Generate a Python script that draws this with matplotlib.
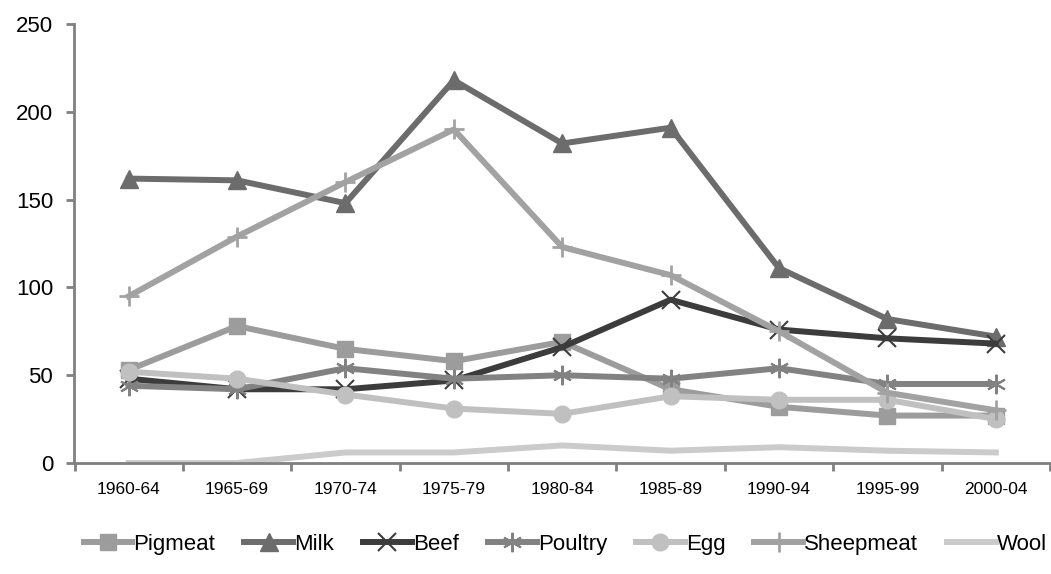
import matplotlib.pyplot as plt

plt.rcParams['font.family'] = ['Liberation Sans', 'DejaVu Sans']

# Periods on the category axis
periods = ["1960-64", "1965-69", "1970-74", "1975-79", "1980-84",
           "1985-89", "1990-94", "1995-99", "2000-04"]

# Series values
pigmeat = [53, 78, 65, 58, 69, 42, 32, 27, 27]
milk = [162, 161, 148, 218, 182, 191, 111, 82, 72]
beef = [48, 42, 42, 47, 66, 93, 76, 71, 68]
poultry = [44, 42, 54, 48, 50, 48, 54, 45, 45]
egg = [52, 48, 39, 31, 28, 38, 36, 36, 25]
sheepmeat = [95, 129, 160, 190, 123, 107, 75, 40, 30]
wool = [0, 0, 6, 6, 10, 7, 9, 7, 6]

fig = plt.figure(figsize=(10.51, 5.74), dpi=100)
ax = fig.add_axes([0.0704, 0.1934, 0.9286, 0.7646])

x = list(range(len(periods)))
lw = 4.3

ax.plot(x, pigmeat, color="#9c9c9c", lw=lw, marker="s", ms=11, label="Pigmeat")
ax.plot(x, milk, color="#6c6c6c", lw=lw, marker="^", ms=13, label="Milk")
ax.plot(x, beef, color="#3c3c3c", lw=lw, marker="x", ms=13, mew=1.5, label="Beef")
ax.plot(x, poultry, color="#828282", lw=lw, marker=(6, 2, 0), ms=14, mew=1.5, label="Poultry")
ax.plot(x, egg, color="#c0c0c0", lw=lw, marker="o", ms=12, label="Egg")
ax.plot(x, sheepmeat, color="#a2a2a2", lw=lw, marker="+", ms=15, mew=2, label="Sheepmeat")
ax.plot(x, wool, color="#cbcbcb", lw=lw, label="Wool")

ax.set_xlim(-0.505, 8.29)
ax.set_ylim(0, 250)
ax.set_yticks([0, 50, 100, 150, 200, 250])
ax.set_xticks(x)
ax.set_xticklabels(periods)
ax.set_xticks([i - 0.5 for i in range(len(periods) + 1)], minor=True)

for s in ["top", "right"]:
    ax.spines[s].set_visible(False)
for s in ["left", "bottom"]:
    ax.spines[s].set_color("#808080")
    ax.spines[s].set_linewidth(2)

ax.tick_params(axis="x", which="major", length=0, pad=14, labelsize=12.5)
ax.tick_params(axis="x", which="minor", length=6, width=2, color="#808080")
ax.tick_params(axis="y", length=6, width=2, color="#808080", labelsize=16, pad=9)

fig.legend(loc="center", bbox_to_anchor=(0.538, 0.052), ncol=7, frameon=False,
           fontsize=16, handlelength=2.2, handletextpad=0.05, columnspacing=1.3)

fig.savefig("out.png", dpi=100)
